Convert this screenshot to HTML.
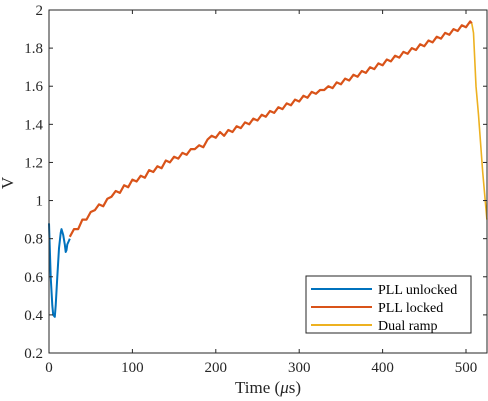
<!DOCTYPE html>
<html><head><meta charset="utf-8"><style>
body{margin:0;background:#fff;}
svg{display:block;font-family:"Liberation Serif",serif;}
</style></head><body>
<svg width="488" height="401" viewBox="0 0 488 401">
<g id="grid"></g>
<g id="series"></g>
<g id="axes"></g>
<g id="legend"></g>
</svg>
<script>
const unlockedX=[0,1,2,4,5,7,8,10,12,14,15,17,19,20,21,22,24,25];
const unlockedY=[0.88,0.75,0.6,0.45,0.4,0.39,0.45,0.6,0.75,0.83,0.85,0.82,0.77,0.73,0.74,0.77,0.79,0.8];
const lockedX=[25,30,35,40,45,50,55,60,65,70,75,80,85,90,95,100,105,110,115,120,125,130,135,140,145,150,155,160,165,170,175,180,185,190,195,200,205,210,215,220,225,230,235,240,245,250,255,260,265,270,275,280,285,290,295,300,305,310,315,320,325,330,335,340,345,350,355,360,365,370,375,380,385,390,395,400,405,410,415,420,425,430,435,440,445,450,455,460,465,470,475,480,485,490,495,500,505,507];
const lockedY=[0.81,0.85,0.85,0.90,0.90,0.94,0.95,0.98,0.97,1.01,1.02,1.05,1.04,1.08,1.07,1.11,1.10,1.13,1.12,1.16,1.15,1.18,1.17,1.21,1.20,1.23,1.22,1.25,1.24,1.27,1.27,1.29,1.28,1.32,1.34,1.33,1.36,1.34,1.37,1.36,1.39,1.38,1.41,1.40,1.43,1.42,1.45,1.44,1.47,1.46,1.49,1.48,1.51,1.50,1.53,1.52,1.55,1.54,1.57,1.56,1.58,1.58,1.60,1.59,1.62,1.61,1.64,1.63,1.66,1.65,1.68,1.67,1.70,1.69,1.72,1.71,1.74,1.73,1.76,1.75,1.78,1.77,1.80,1.79,1.82,1.81,1.84,1.83,1.86,1.85,1.88,1.87,1.90,1.89,1.92,1.91,1.94,1.93];
const rampX=[507,509,512,515,520,525];
const rampY=[1.93,1.88,1.6,1.45,1.15,0.9];
const xTicks=[0,100,200,300,400,500];
const yTicks=[0.2,0.4,0.6,0.8,1,1.2,1.4,1.6,1.8,2];
const L=49,R=487,T=10,B=353;
const xs=v=>L+v*(466-49)/500;
const ys=v=>B-(v-0.2)/(1.8)*(B-T);
const NS="http://www.w3.org/2000/svg";
function mk(tag,attrs,parent){const e=document.createElementNS(NS,tag);for(const k in attrs)e.setAttribute(k,attrs[k]);parent.appendChild(e);return e;}
const ser=document.getElementById('series'),ax=document.getElementById('axes'),lg=document.getElementById('legend');
function line(X,Y,color,name,w){const d=X.map((x,i)=>(i?'L':'M')+xs(x).toFixed(1)+','+ys(Y[i]).toFixed(1)).join('');
const p=mk('path',{d:d,fill:'none',stroke:color,'stroke-width':w,'stroke-linejoin':'round'},ser);

}
line(lockedX,lockedY,'#d95319','series-pll-locked',2.2);
line(unlockedX,unlockedY,'#0072bd','series-pll-unlocked',2);
line(rampX,rampY,'#edb120','series-dual-ramp',1.6);
const box=mk('rect',{x:L,y:T,width:R-L,height:B-T,fill:'none',stroke:'#262626','stroke-width':1},ax);


xTicks.forEach(v=>{const x=xs(v);
mk('line',{x1:x,x2:x,y1:B,y2:B-4,stroke:'#262626'},ax);mk('line',{x1:x,x2:x,y1:T,y2:T+4,stroke:'#262626'},ax);
const t=mk('text',{x:x,y:B+19,'text-anchor':'middle','font-size':15,fill:'#262626'},ax);t.textContent=v;

});
yTicks.forEach(v=>{const y=ys(v);
mk('line',{x1:L,x2:L+4,y1:y,y2:y,stroke:'#262626'},ax);mk('line',{x1:R,x2:R-4,y1:y,y2:y,stroke:'#262626'},ax);
const t=mk('text',{x:L-6,y:y+5,'text-anchor':'end','font-size':15,fill:'#262626'},ax);t.textContent=(v===1||v===2)?v:v.toFixed(1);

});
const xt=mk('text',{x:268,y:393,'text-anchor':'middle','font-size':17,fill:'#262626'},ax);
xt.innerHTML='Time (<tspan font-style="italic">μ</tspan>s)';


const yt=mk('text',{x:13,y:183,'text-anchor':'middle','font-size':17,fill:'#262626',transform:'rotate(-90 13 183)'},ax);
yt.textContent='V';


const lb=mk('rect',{x:306,y:276,width:165,height:57,fill:'#fff',stroke:'#262626','stroke-width':1},lg);


[['PLL unlocked','#0072bd'],['PLL locked','#d95319'],['Dual ramp','#edb120']].forEach((e,i)=>{
const y=289+i*18;
const g=mk('g',{},lg);


mk('line',{x1:311,x2:372,y1:y,y2:y,stroke:e[1],'stroke-width':2},g);
const t=mk('text',{x:378,y:y+5,'font-size':14,fill:'#000'},g);t.textContent=e[0];});
</script>
</body></html>
